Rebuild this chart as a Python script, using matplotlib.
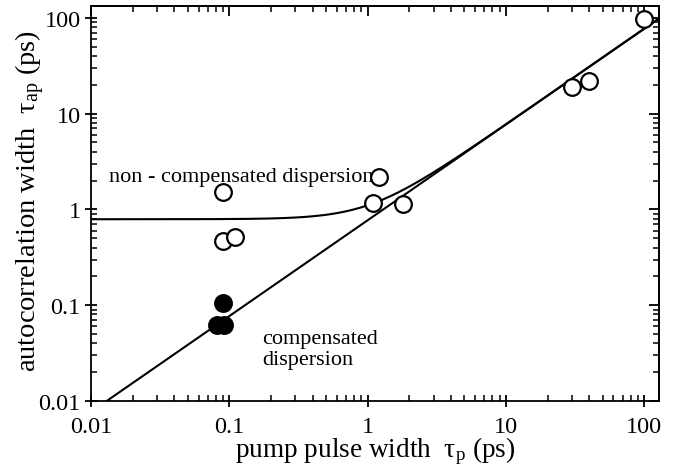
import numpy as np
import matplotlib
matplotlib.use("Agg")
import matplotlib.pyplot as plt

plt.rcParams['font.family'] = ['Liberation Serif', 'DejaVu Serif']
plt.rcParams['mathtext.fontset'] = 'custom'
plt.rcParams['mathtext.rm'] = 'Liberation Serif'
plt.rcParams['mathtext.it'] = 'Liberation Serif:italic'

# Data
open_x = [0.09, 0.09, 0.11, 1.2, 1.1, 1.8, 30, 40, 99]
open_y = [1.53, 0.47, 0.51, 2.2, 1.18, 1.14, 19, 22, 97]
filled_x = [0.09, 0.082, 0.092]
filled_y = [0.105, 0.062, 0.062]

# Model curves: tau_ap = k * tau_p  and  sqrt((k*tau_p)^2 + c^2)
fit_k = 0.77
fit_c = 0.79

x_ticks = [0.01, 0.1, 1, 10, 100]
x_ticklabels = ['0.01', '0.1', '1', '10', '100']
y_ticks = [0.01, 0.1, 1, 10, 100]
y_ticklabels = ['0.01', '0.1', '1', '10', '100']

fig = plt.figure(figsize=(6.86, 4.77), dpi=100)
ax = fig.add_axes([91/686, 1 - 402/477, (659 - 91)/686, (402 - 7)/477])
ax.set_xscale('log')
ax.set_yscale('log')
ax.set_xlim(0.01, 128)
ax.set_ylim(0.01, 133)

xx = np.logspace(-2, np.log10(128), 400)
ax.plot(xx, fit_k * xx, color='black', lw=1.5, zorder=2)
ax.plot(xx, np.sqrt((fit_k * xx) ** 2 + fit_c ** 2), color='black', lw=1.5, zorder=2)

ax.plot(open_x, open_y, 'o', ms=12, mfc='white', mec='black', mew=1.6, ls='none', zorder=4)
ax.plot(filled_x, filled_y, 'o', ms=12, mfc='black', mec='black', mew=1.6, ls='none', zorder=4)

ax.text(0.0135, 2.2, 'non - compensated dispersion', fontsize=16, ha='left', va='center', zorder=3)
ax.text(0.1726, 0.035, 'compensated\ndispersion', fontsize=16, ha='left', va='center',
        linespacing=1.15, zorder=3)

ax.set_xticks(x_ticks)
ax.set_xticklabels(x_ticklabels)
ax.set_yticks(y_ticks)
ax.set_yticklabels(y_ticklabels)
ax.tick_params(which='major', direction='inout', length=9, width=1.3, labelsize=17.5,
               top=False, right=False)
ax.tick_params(which='minor', direction='in', length=4.5, width=1.1, top=False, right=False)
ax.tick_params(axis='x', which='major', pad=6)
ax.tick_params(axis='y', which='major', pad=3)

for s in ax.spines.values():
    s.set_linewidth(1.3)

secx = ax.secondary_xaxis('top')
secx.set_xticks(x_ticks)
secx.tick_params(which='major', direction='in', length=7, width=1.3, labeltop=False)
secx.tick_params(which='minor', direction='in', length=4.5, width=1.1)
secx.set_xticklabels([])
secy = ax.secondary_yaxis('right')
secy.set_yticks(y_ticks)
secy.tick_params(which='major', direction='in', length=7, width=1.3, labelright=False)
secy.tick_params(which='minor', direction='in', length=4.5, width=1.1)
secy.set_yticklabels([])
for s in list(secx.spines.values()) + list(secy.spines.values()):
    s.set_linewidth(1.3)

ax.set_xlabel(r'pump pulse width  $\mathregular{\tau_{p}}$ (ps)', fontsize=19.6)
ax.set_ylabel(r'autocorrelation width  $\mathregular{\tau_{ap}}$ (ps)', fontsize=20.5)
ax.xaxis.set_label_coords(0.5, -0.085)
ax.yaxis.set_label_coords(-0.078, 0.509)

fig.savefig('out.png', dpi=100)
